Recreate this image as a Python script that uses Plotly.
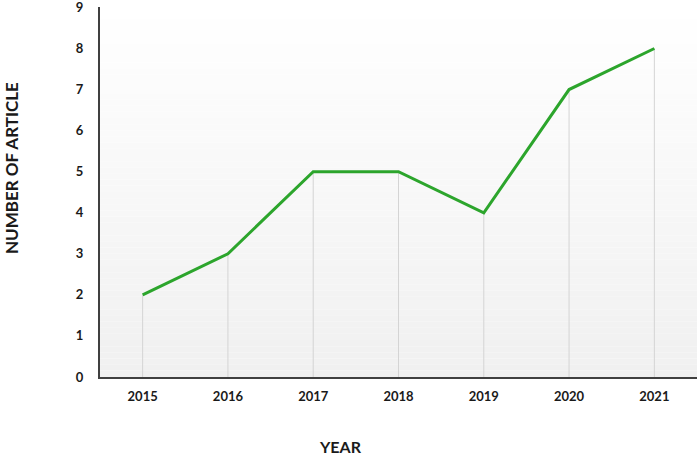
import plotly.graph_objects as go

years = ["2015", "2016", "2017", "2018", "2019", "2020", "2021"]
articles = [2, 3, 5, 5, 4, 7, 8]
y_ticks = [0, 1, 2, 3, 4, 5, 6, 7, 8, 9]

FONT = "Lato"

fig = go.Figure()
fig.add_trace(go.Scatter(
    x=years, y=articles, mode="lines",
    line=dict(color="#2ca52c", width=3),
    error_y=dict(type="data", symmetric=False, array=[0] * len(articles),
                 arrayminus=articles, thickness=1, width=0, color="#d4d4d4"),
    hoverinfo="x+y", showlegend=False,
))

# vertical gradient background (white top -> light gray bottom)
n = 60
shapes = []
for i in range(n):
    t = i / (n - 1)
    v = int(round(255 - (255 - 240) * (1 - t)))
    shapes.append(dict(type="rect", xref="x domain", yref="y domain",
                       x0=0, x1=1, y0=i / n, y1=(i + 1) / n,
                       fillcolor=f"rgb({v},{v},{v})", line=dict(width=0),
                       layer="below"))

fig.update_layout(
    width=699, height=455,
    margin=dict(l=100, r=2, t=7, b=78),
    paper_bgcolor="white", plot_bgcolor="white",
    shapes=shapes,
    font=dict(family=FONT, color="#1a1a1a"),
    xaxis=dict(type="category", range=[-0.5, len(years) - 0.5], automargin=False,
               showgrid=False, showline=True, linecolor="#404040",
               linewidth=2, ticks="", tickfont=dict(family=FONT, size=13, weight="bold"),
               ticklabelstandoff=6, zeroline=False),
    yaxis=dict(range=[0, 9.01], tickvals=y_ticks, automargin=False, showgrid=False,
               showline=True, linecolor="#404040", linewidth=2, ticks="",
               tickfont=dict(family=FONT, size=13, weight="bold"),
               ticklabelstandoff=12, zeroline=False, ticklabeloverflow="allow"),
    annotations=[
        dict(text="NUMBER OF ARTICLE", xref="paper", yref="paper",
             x=(11 - 100) / 597, y=(377 - 168) / 370, textangle=-90,
             xanchor="center", yanchor="middle",
             showarrow=False, font=dict(family=FONT, size=17, weight="bold", color="#1a1a1a")),
        dict(text="YEAR", xref="paper", yref="paper",
             x=(340 - 100) / 597, y=(377 - 446) / 370,
             xanchor="center", yanchor="middle",
             showarrow=False, font=dict(family=FONT, size=16, weight="bold", color="#1a1a1a")),
    ],
)

fig.write_html("out.html", config={"displayModeBar": False},
               post_script="document.body.style.margin='0';document.body.style.overflow='hidden';")
